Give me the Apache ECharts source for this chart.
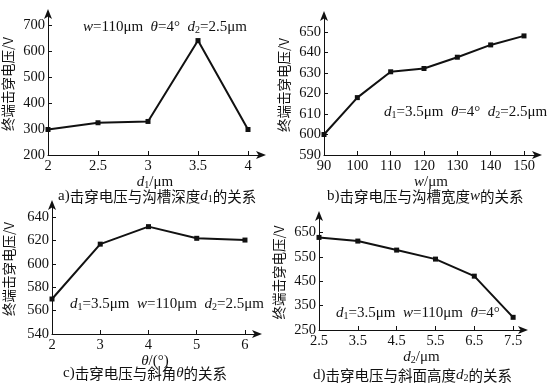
<!DOCTYPE html>
<html>
<head>
<meta charset="utf-8">
<script src="https://cdn.jsdelivr.net/npm/echarts@6/dist/echarts.min.js"></script>
<style>html,body{margin:0;padding:0;background:#fff}#c{width:553px;height:390px}</style>
</head>
<body>
<div id="c"></div>
<script>
// Panel a: breakdown voltage vs trench depth d1
const d1Values = [2, 2.5, 3, 3.5, 4];
const voltA = [298, 324, 329, 640, 298];
const xTicksA = [2, 2.5, 3, 3.5, 4];
const yTicksA = [200, 300, 400, 500, 600, 700];
// Panel b: vs trench width w
const wValues = [90, 100, 110, 120, 130, 140, 150];
const voltB = [600, 618, 630.6, 632.2, 637.7, 643.7, 648.1];
const xTicksB = [90, 100, 110, 120, 130, 140, 150];
const yTicksB = [590, 600, 610, 620, 630, 640, 650];
// Panel c: vs bevel angle theta
const thetaValues = [2, 3, 4, 5, 6];
const voltC = [570, 617, 632, 622, 620.5];
const xTicksC = [2, 3, 4, 5, 6];
const yTicksC = [540, 560, 580, 600, 620, 640];
// Panel d: vs bevel height d2
const d2Values = [2.5, 3.5, 4.5, 5.5, 6.5, 7.5];
const voltD = [630, 615, 578, 541, 471, 302];
const xTicksD = [2.5, 3.5, 4.5, 5.5, 6.5, 7.5];
const yTicksD = [250, 350, 450, 550, 650];

const FONT = "'Liberation Serif','Times New Roman','Noto Sans CJK SC',serif";
const CJK = "'Noto Sans CJK SC','Liberation Serif',serif";
const rich = {
  i: {fontFamily: FONT, fontStyle: 'italic', fontWeight: 'normal', fontSize: 15, color: '#111'},
  n: {fontFamily: FONT, fontWeight: 'normal', fontSize: 15, color: '#111'},
  s: {fontFamily: FONT, fontWeight: 'normal', fontSize: 10, color: '#111', verticalAlign: 'bottom', padding: [6, 0, 0, 0]},
  c: {fontFamily: CJK, fontWeight: 'normal', fontSize: 14.5, color: '#111'}
};

const grids = [
  {left: 48, top: 13, width: 214, height: 142},
  {left: 324, top: 15, width: 214, height: 140},
  {left: 52, top: 204, width: 206, height: 130},
  {left: 319, top: 215, width: 205, height: 115}
];
const xDefs = [
  {min: 2, max: 4.14, ticks: xTicksA, name: '{i|d}{s|1}{n|/μm}', gap: 17},
  {min: 90, max: 154.2, ticks: xTicksB, name: '{i|w}{n|/μm}', gap: 17},
  {min: 2, max: 6.27, ticks: xTicksC, name: '{i|θ}{n|/(°)}', gap: 9},
  {min: 2.5, max: 7.78, ticks: xTicksD, name: '{i|d}{s|2}{n|/μm}', gap: 19}
];
const yDefs = [
  {min: 200, max: 746, ticks: yTicksA, gap: 33},
  {min: 590, max: 658.3, ticks: yTicksB, gap: 33},
  {min: 540, max: 651.4, ticks: yTicksC, gap: 36},
  {min: 250, max: 722, ticks: yTicksD, gap: 33}
];
const seriesData = [
  [d1Values, voltA], [wValues, voltB], [thetaValues, voltC], [d2Values, voltD]
];

const axisLine = {show: true, lineStyle: {color: '#111', width: 1}, symbol: ['none', 'arrow'], symbolSize: [6, 10], symbolOffset: [0, 4]};

const option = {
  backgroundColor: '#fff',
  animation: false,
  grid: grids,
  xAxis: xDefs.map((d, i) => ({
    type: 'value', gridIndex: i, min: d.min, max: d.max,
    axisLine: axisLine,
    axisTick: {show: true, inside: true, length: 4, lineStyle: {color: '#111'}, customValues: d.ticks},
    axisLabel: {customValues: d.ticks, fontFamily: FONT, fontSize: 14.5, color: '#111', margin: 4},
    splitLine: {show: false},
    name: d.name, nameLocation: 'middle', nameGap: d.gap,
    nameTextStyle: {rich: rich}
  })),
  yAxis: yDefs.map((d, i) => ({
    type: 'value', gridIndex: i, min: d.min, max: d.max,
    axisLine: axisLine,
    axisTick: {show: true, inside: true, length: 4, lineStyle: {color: '#111'}, customValues: d.ticks},
    axisLabel: {customValues: d.ticks, fontFamily: FONT, fontSize: 14.5, color: '#111', margin: 3},
    splitLine: {show: false},
    name: '终端击穿电压/V', nameLocation: 'middle', nameGap: d.gap, nameRotate: 90,
    nameTextStyle: {fontFamily: CJK, fontSize: 13.5, color: '#111'}
  })),
  title: [
    {text: '{i|w}{n|=110μm  }{i|θ}{n|=4°  }{i|d}{s|2}{n|=2.5μm}', left: 83, top: 19},
    {text: '{i|d}{s|1}{n|=3.5μm  }{i|θ}{n|=4°  }{i|d}{s|2}{n|=2.5μm}', left: 384, top: 104},
    {text: '{i|d}{s|1}{n|=3.5μm  }{i|w}{n|=110μm  }{i|d}{s|2}{n|=2.5μm}', left: 70, top: 296},
    {text: '{i|d}{s|1}{n|=3.5μm  }{i|w}{n|=110μm  }{i|θ}{n|=4°}', left: 336, top: 305},
    {text: '{n|a)}{c|击穿电压与沟槽深度}{i|d}{s|1}{c|的关系}', left: 58, top: 188},
    {text: '{n|b)}{c|击穿电压与沟槽宽度}{i|w}{c|的关系}', left: 327, top: 189},
    {text: '{n|c)}{c|击穿电压与斜角}{i|θ}{c|的关系}', left: 63, top: 366},
    {text: '{n|d)}{c|击穿电压与斜面高度}{i|d}{s|2}{c|的关系}', left: 313, top: 367}
  ].map(t => ({text: t.text, left: t.left, top: t.top, padding: 0, textStyle: {fontWeight: 'normal', rich: rich}})),
  series: seriesData.map((sd, i) => ({
    type: 'line', xAxisIndex: i, yAxisIndex: i,
    data: sd[0].map((x, k) => [x, sd[1][k]]),
    symbol: 'rect', symbolSize: 5, showSymbol: true,
    lineStyle: {color: '#111', width: 2},
    itemStyle: {color: '#111'}
  }))
};
const chart = echarts.init(document.getElementById('c'), null, {renderer: 'canvas'});
chart.setOption(option);
</script>
</body>
</html>
